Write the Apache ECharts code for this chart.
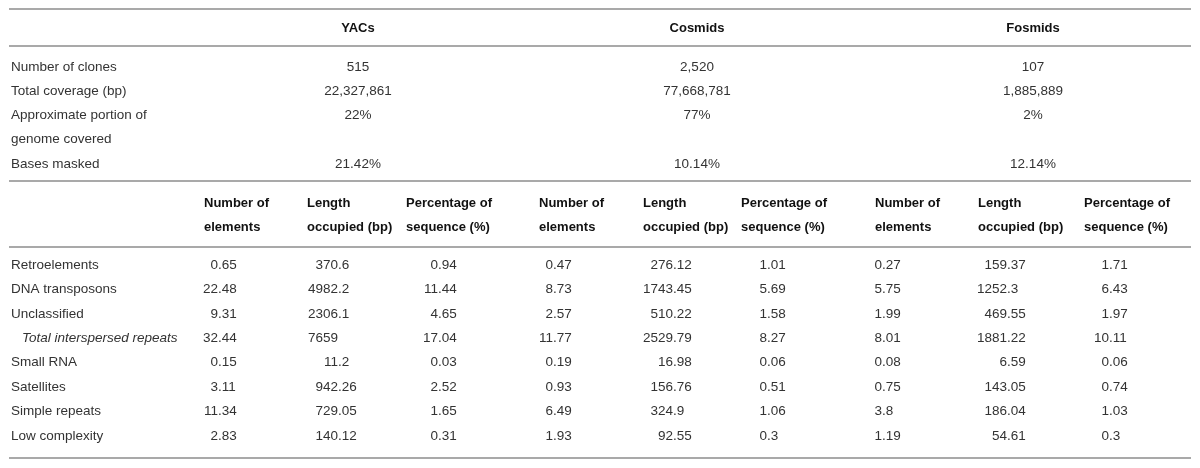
<!DOCTYPE html>
<html>
<head>
    <meta charset="utf-8" />
    <title>Repeat content by clone type</title>
    <script src="https://cdn.jsdelivr.net/npm/echarts@6/dist/echarts.min.js"></script>
    <style>
        body { margin: 0; background: #fff; }
        #main { width: 1200px; height: 468px; }
    </style>
</head>
<body>
<div id="main"></div>
<script type="text/javascript">
    // clone libraries (column groups)
    var groups = ['YACs', 'Cosmids', 'Fosmids'];

    // upper block
    var summaryLabels = [['Number of clones'], ['Total coverage (bp)'], ['Approximate portion of', 'genome covered'], ['Bases masked']];
    var clones = ['515', '2,520', '107'];
    var coverage = ['22,327,861', '77,668,781', '1,885,889'];
    var portion = ['22%', '77%', '2%'];
    var masked = ['21.42%', '10.14%', '12.14%'];

    // lower block
    var subHeaders = [['Number of', 'elements'], ['Length', 'occupied (bp)'], ['Percentage of', 'sequence (%)']];
    var repeatTypes = ['Retroelements', 'DNA transposons', 'Unclassified', 'Total interspersed repeats',
        'Small RNA', 'Satellites', 'Simple repeats', 'Low complexity'];
    var yacsCount = [0.65, 22.48, 9.31, 32.44, 0.15, 3.11, 11.34, 2.83];
    var yacsLength = [370.6, 4982.2, 2306.1, 7659, 11.2, 942.26, 729.05, 140.12];
    var yacsPct = [0.94, 11.44, 4.65, 17.04, 0.03, 2.52, 1.65, 0.31];
    var cosCount = [0.47, 8.73, 2.57, 11.77, 0.19, 0.93, 6.49, 1.93];
    var cosLength = [276.12, 1743.45, 510.22, 2529.79, 16.98, 156.76, 324.9, 92.55];
    var cosPct = [1.01, 5.69, 1.58, 8.27, 0.06, 0.51, 1.06, 0.3];
    var fosCount = [0.27, 5.75, 1.99, 8.01, 0.08, 0.75, 3.8, 1.19];
    var fosLength = [159.37, 1252.3, 469.55, 1881.22, 6.59, 143.05, 186.04, 54.61];
    var fosPct = [1.71, 6.43, 1.97, 10.11, 0.06, 0.74, 1.03, 0.3];

    var myChart = echarts.init(document.getElementById('main'));

    var FONT = '"Liberation Sans", Arial, sans-serif';
    var TXT = '#333';
    var RULE = '#8c8c8c';

    var els = [];
    function txt(s, x, y, align, bold, italic) {
        els.push({
            type: 'text', x: x, y: y, silent: true,
            style: {
                text: s, fill: bold ? '#111' : TXT,
                fontFamily: FONT, fontSize: bold ? 13 : 13.5,
                fontWeight: bold ? 'bold' : 'normal',
                fontStyle: italic ? 'italic' : 'normal',
                align: align || 'left', verticalAlign: 'middle'
            }
        });
    }
    function rule(y) {
        els.push({
            type: 'line', silent: true,
            shape: { x1: 9, y1: y, x2: 1191, y2: y },
            style: { stroke: RULE, lineWidth: 1.6 }
        });
    }
    // numbers lined up on the decimal point
    function decimal(v, dx, y) {
        var s = String(v);
        var i = s.indexOf('.');
        var whole = i < 0 ? s : s.slice(0, i);
        var frac = i < 0 ? '' : s.slice(i);
        txt(whole, dx, y, 'right');
        if (frac) txt(frac, dx, y, 'left');
    }

    // rules
    [9, 46, 181, 247, 458].forEach(rule);

    // group headers
    var groupX = [358, 697, 1033];
    groups.forEach(function (g, i) { txt(g, groupX[i], 28, 'center', true); });

    // summary block
    var summaryRows = [clones, coverage, portion, masked];
    var summaryY = [[67], [91], [115, 139], [164]];
    summaryLabels.forEach(function (lab, r) {
        lab.forEach(function (line, k) { txt(line, 11, summaryY[r][k], 'left'); });
        summaryRows[r].forEach(function (v, c) { txt(v, groupX[c], summaryY[r][0], 'center'); });
    });

    // sub headers
    var subX = [204, 307, 406, 539, 643, 741, 875, 978, 1084];
    for (var g = 0; g < 3; g++) {
        subHeaders.forEach(function (h, k) {
            txt(h[0], subX[g * 3 + k], 203, 'left', true);
            txt(h[1], subX[g * 3 + k], 227, 'left', true);
        });
    }

    // repeat rows
    var cols = [yacsCount, yacsLength, yacsPct, cosCount, cosLength, cosPct, fosCount, fosLength, fosPct];
    var decX = [218, 338, 438, 553, 673, 767, 882, 1007, 1109];
    var rowY0 = 265, rowStep = 24.4;
    repeatTypes.forEach(function (name, r) {
        var y = rowY0 + r * rowStep;
        var italic = name.indexOf('Total') === 0;
        txt(name, italic ? 22 : 11, y, 'left', false, italic);
        cols.forEach(function (col, c) { decimal(col[r], decX[c], y); });
    });

    myChart.setOption({
        backgroundColor: '#fff',
        animation: false,
        graphic: { elements: els }
    });
</script>
</body>
</html>
